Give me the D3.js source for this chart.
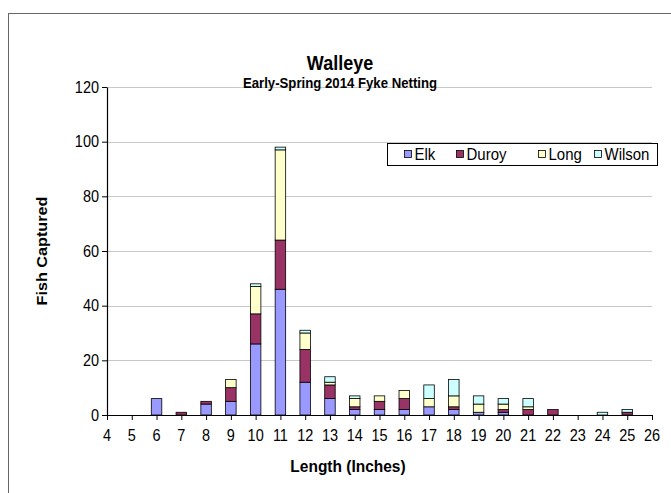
<!DOCTYPE html>
<html><head><meta charset="utf-8">
<script src="https://cdn.jsdelivr.net/npm/d3@7"></script>
<style>body{margin:0;background:#fff}svg{display:block}text{font-family:"Liberation Sans",Arial,sans-serif;fill:#000}</style>
</head><body><svg id="c" width="671" height="493"></svg>
<script>
const lengths = [4,5,6,7,8,9,10,11,12,13,14,15,16,17,18,19,20,21,22,23,24,25];
const elk    = [0,0,6,0,4,5,26,46,12,6,2,2,2,3,2,1,1,0,0,0,0,0];
const duroy  = [0,0,0,1,1,5,11,18,12,5,1,3,4,0,1,0,1,2,2,0,0,1];
const long_  = [0,0,0,0,0,3,10,33,6,1,3,2,3,3,4,3,2,1,0,0,0,0];
const wilson = [0,0,0,0,0,0,1,1,1,2,1,0,0,5,6,3,2,3,0,0,1,1];
const seriesNames = ["Elk","Duroy","Long","Wilson"];
const seriesColors = ["#9999FF","#993366","#FFFFCC","#CCFFFF"];
const xTicks = d3.range(4,27);
const yTicks = [0,20,40,60,80,100,120];

const K = 1.12; // vertical stretch of text
const svg = d3.select("#c");
function label(x, y, str, size, opts={}) {
  return svg.append("text")
    .attr("transform", `translate(${x},${y})${opts.rotate?` rotate(${opts.rotate})`:""} scale(${opts.rotate?K:1},${opts.rotate?1:K})`)
    .attr("font-size", size).attr("text-anchor", opts.anchor||"middle")
    .attr("font-weight", opts.bold?"bold":"normal").text(str);
}

svg.append("rect").attr("x",8.5).attr("y",13.5).attr("width",700).attr("height",520)
  .attr("fill","#fff").attr("stroke","#666").attr("stroke-width",1);

const x = d3.scaleLinear().domain([4,26]).range([107,652]);
const y = d3.scaleLinear().domain([0,120]).range([415,87]);

// gridlines
svg.append("g").selectAll("line").data(yTicks.filter(d=>d>0)).join("line")
  .attr("x1",x(4)).attr("x2",x(26)).attr("y1",d=>Math.round(y(d))+0.5).attr("y2",d=>Math.round(y(d))+0.5)
  .attr("stroke","#c8c8c8").attr("stroke-width",1);

// stacked bars
const table = lengths.map((L,i)=>({L, Elk:elk[i], Duroy:duroy[i], Long:long_[i], Wilson:wilson[i]}));
const stack = d3.stack().keys(seriesNames)(table);
const bw = 10.5;
stack.forEach((s,si)=>{
  svg.append("g").selectAll("rect").data(s.filter(d=>d[1]-d[0]>0)).join("rect")
    .attr("x",d=>x(d.data.L)-bw/2).attr("width",bw)
    .attr("y",d=>y(d[1])).attr("height",d=>y(d[0])-y(d[1]))
    .attr("fill",seriesColors[si]).attr("stroke","#000").attr("stroke-width",0.8);
});

// axes (lines & ticks via d3-axis, labels drawn below)
const gy = svg.append("g").attr("transform","translate(107,0)")
  .call(d3.axisLeft(y).tickValues(yTicks).tickSize(5).tickSizeOuter(0).tickFormat(""));
const gx = svg.append("g").attr("transform","translate(0,415)")
  .call(d3.axisBottom(x).tickValues(xTicks).tickSize(5).tickSizeOuter(0).tickFormat(""));
[gy,gx].forEach(g=>{
  g.select(".domain").attr("stroke","#000").attr("stroke-width",1.2);
  g.selectAll(".tick line").attr("stroke","#000");
});
yTicks.forEach(v=>label(99, y(v)+5.5, String(v), 14.5, {anchor:"end"}));
xTicks.forEach(v=>label(x(v), 441, String(v), 14.5));

// titles
label(340, 70, "Walleye", 18, {bold:true});
label(340, 88, "Early-Spring 2014 Fyke Netting", 13.2, {bold:true});
label(47, 251, "Fish Captured", 14.5, {bold:true, rotate:-90});
label(348, 472, "Length (Inches)", 15.5, {bold:true});

// legend
svg.append("rect").attr("x",387.5).attr("y",143.5).attr("width",270).attr("height",22)
  .attr("fill","#fff").attr("stroke","#000");
const lx = [404,456,538,594];
seriesNames.forEach((n,i)=>{
  svg.append("rect").attr("x",lx[i]+0.5).attr("y",150.5).attr("width",7).attr("height",7)
    .attr("fill",seriesColors[i]).attr("stroke","#000").attr("stroke-width",0.8);
  label(lx[i]+10.5, 160, n, 15, {anchor:"start"});
});
</script></body></html>
